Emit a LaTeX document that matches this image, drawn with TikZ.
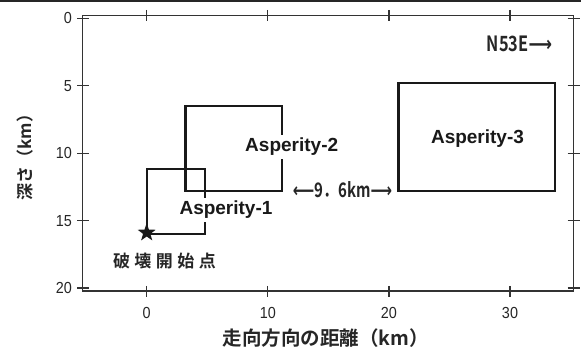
\documentclass[tikz,border=0pt]{standalone}
\usepackage{fontspec}
\usepackage{graphicx}
\setmainfont{Liberation Sans}
\newfontfamily\jp{Noto Sans CJK JP}[BoldFont={Noto Sans CJK JP Bold}]
\newfontfamily\arr{DejaVu Sans}
\usetikzlibrary{shapes.geometric}
\tikzset{
  axisline/.style={draw=black!80, line width=1.3pt},
  aspbox/.style={draw=black!90, line width=2.2pt},
  ticklab/.style={inner sep=0pt, font=\fontsize{16}{16}\selectfont, text=black!85},
  asplab/.style={fill=white, inner sep=3pt, font=\fontsize{19}{19}\selectfont\bfseries, text=black!90},
  jplab/.style={inner sep=0pt, text=black!85},
}
\newcommand{\narrow}[2]{\scalebox{#1}[1]{#2}}
\begin{document}
\begin{tikzpicture}[x=1pt, y=-1pt]
\useasboundingbox (0,0) rectangle (581,347);
\fill[black!85] (0,0) rectangle (581,2);
% frame
\draw[axisline] (82.7,15.7) rectangle (573.5,291);
% x ticks
\foreach \xx in {146.7,267.8,388.9,510} {
  \draw[axisline] (\xx,10) -- (\xx,21);
  \draw[axisline] (\xx,286) -- (\xx,297);
}
% y ticks
\foreach \yy in {18.3,85.7,153.2,220.6,288} {
  \draw[axisline] (77,\yy) -- (89,\yy);
  \draw[axisline] (567.5,\yy) -- (580,\yy);
}
% tick labels
\node[ticklab, anchor=east] (y0)  at (72,18.3)  {\narrow{0.9}{0}};
\node[ticklab, anchor=east] (y5)  at (72,85.7)  {\narrow{0.9}{5}};
\node[ticklab, anchor=east] (y10) at (72,153.2) {\narrow{0.9}{10}};
\node[ticklab, anchor=east] (y15) at (72,220.6) {\narrow{0.9}{15}};
\node[ticklab, anchor=east] (y20) at (72,288)   {\narrow{0.9}{20}};
\node[ticklab] (x0)  at (146.7,313) {\narrow{0.9}{0}};
\node[ticklab] (x10) at (267.8,313) {\narrow{0.9}{10}};
\node[ticklab] (x20) at (388.9,313) {\narrow{0.9}{20}};
\node[ticklab] (x30) at (510,313)   {\narrow{0.9}{30}};
% axis titles
\node[jplab, font=\jp\bfseries\fontsize{19.5}{20}\selectfont] (xtitle) at (326,338) {走向方向の距離（km）};
\node[jplab, rotate=90, font=\jp\bfseries\fontsize{17}{17}\selectfont] (ytitle) at (25,153) {深さ（km）};
% asperities
\begin{scope}[shift={(146.7,18.3)}, x=12.11pt, y=-13.485pt]
  \draw[aspbox] (3.2,6.5) rectangle (11.2,12.8);
  \draw[aspbox] (20.8,4.8) rectangle (33.7,12.8);
  \draw[aspbox] (0,16.0) rectangle (4.84,11.2);
  \node[star, star points=5, star point ratio=2.5, fill=black!90, minimum size=19pt, inner sep=0pt] (hypo) at (0,15.9) {};
\end{scope}
\node[asplab] (a2) at (291.7,147) {Asperity-2};
\node[asplab] (a1) at (226,210) {Asperity-1};
\node[asplab] (a3) at (477.5,138.5) {Asperity-3};
\node[jplab, font=\jp\bfseries\fontsize{17}{17}\selectfont] (hypolab) at (164.5,261) {破\hspace{4.5pt}壊\hspace{4.5pt}開\hspace{4.5pt}始\hspace{4.5pt}点};
\node[jplab, font=\jp\bfseries\fontsize{21}{21}\selectfont] (dir) at (519.5,43.5) {\narrow{0.78}{N53E{\arr\bfseries ⟶}}};
\node[jplab, font=\jp\bfseries\fontsize{20}{20}\selectfont] (gap) at (342.5,190) {\narrow{0.75}{{\arr\bfseries ⟵}9．6km{\arr\bfseries ⟶}}};
\end{tikzpicture}
\end{document}
